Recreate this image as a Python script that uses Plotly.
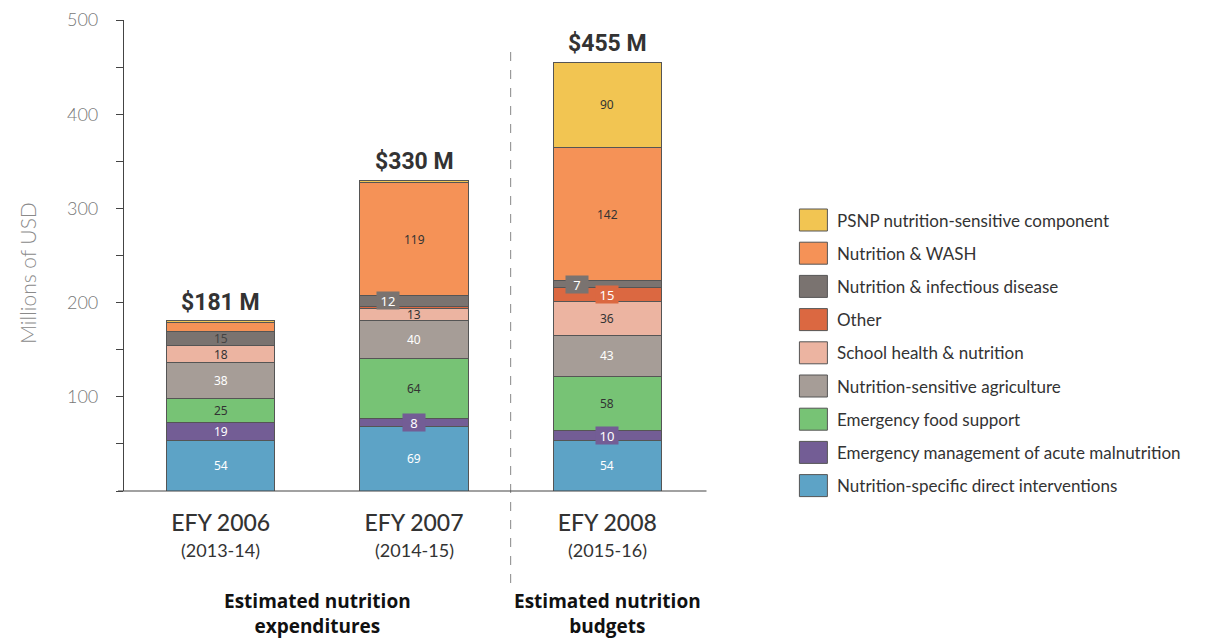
import plotly.graph_objects as go

# Fiscal years and their Gregorian equivalents
years = ["EFY 2006", "EFY 2007", "EFY 2008"]
periods = ["(2013-14)", "(2014-15)", "(2015-16)"]
totals = [181, 330, 455]

# Spending by category, stacked bottom to top (millions of USD)
direct = [54, 69, 54]
acute = [19, 8, 10]
food = [25, 64, 58]
agriculture = [38, 40, 43]
school = [18, 13, 36]
other = [0, 2, 15]
infectious = [15, 12, 7]
wash = [10, 119, 142]
psnp = [2, 3, 90]

series = [
    ("Nutrition-specific direct interventions", direct, "#5DA3C6"),
    ("Emergency management of acute malnutrition", acute, "#735D95"),
    ("Emergency food support", food, "#77C375"),
    ("Nutrition-sensitive agriculture", agriculture, "#A69D97"),
    ("School health & nutrition", school, "#ECB4A1"),
    ("Other", other, "#DB6841"),
    ("Nutrition & infectious disease", infectious, "#7A7370"),
    ("Nutrition & WASH", wash, "#F59257"),
    ("PSNP nutrition-sensitive component", psnp, "#F2C552"),
]

# How each value label is drawn: (style, text colour, horizontal shift in px)
# style: "in" = plain text inside the segment, "box" = tagged box, None = no label
label_style = {
    "Nutrition-specific direct interventions": [("in", "white", 0)] * 3,
    "Emergency management of acute malnutrition": [("in", "white", 0), ("box", "white", 0), ("box", "white", 0)],
    "Emergency food support": [("in", "#333", 0)] * 3,
    "Nutrition-sensitive agriculture": [("in", "white", 0)] * 3,
    "School health & nutrition": [("in", "#333", 0)] * 3,
    "Other": [None, None, ("box", "white", 0)],
    "Nutrition & infectious disease": [("in", "#444", 0), ("box", "white", -26), ("box", "white", -30)],
    "Nutrition & WASH": [None, ("in", "#333", 0), ("in", "#333", 0)],
    "PSNP nutrition-sensitive component": [None, None, ("in", "#333", 0)],
}

W, H = 1225, 638
ML, MT = 124, 20
PW, PH = 580.5, 471
MR, MB = W - ML - PW, H - MT - PH


def px_x(px):
    return (px - ML) / PW


def px_y(py):
    return (MT + PH - py) / PH


xs = list(range(len(years)))
fig = go.Figure()

for name, vals, color in series:
    fig.add_trace(go.Bar(
        x=xs, y=vals, name=name, width=0.56,
        marker=dict(color=color, line=dict(color="#555555", width=1)),
        showlegend=False,
    ))

annotations = []
base = [0, 0, 0]
for name, vals, color in series:
    for i, v in enumerate(vals):
        st = label_style[name][i]
        if st is not None and v > 0:
            kind, fcol, dx = st
            a = dict(x=xs[i], y=base[i] + v / 2, xref="x", yref="y", text=str(v),
                     showarrow=False, xshift=dx, xanchor="center", yanchor="middle",
                     font=dict(family="Noto Sans", size=12, color=fcol))
            if kind == "box":
                a.update(bgcolor=color, borderpad=0, width=22, height=17,
                         font=dict(family="Noto Sans", size=13, color=fcol))
            annotations.append(a)
        base[i] += v

# Totals above each bar
for i, t in enumerate(totals):
    annotations.append(dict(x=xs[i], y=t, xref="x", yref="y", yanchor="bottom", yshift=3,
                            xanchor="center", text=f"<b>${t} M</b>", showarrow=False,
                            font=dict(family="Roboto", size=23, color="#333")))

# Gregorian year ranges under the fiscal-year labels
for i, p in enumerate(periods):
    annotations.append(dict(x=xs[i], y=px_y(550), xref="x", yref="paper", text=p, showarrow=False,
                            xanchor="center", yanchor="middle",
                            font=dict(family="Lato", size=18, color="#333")))

# Group captions
cap_font = dict(family="Open Sans", size=19, color="#111")
annotations.append(dict(x=0.5, y=px_y(613), xref="x", yref="paper", xanchor="center", yanchor="middle",
                        text="<b>Estimated nutrition<br>expenditures</b>", showarrow=False,
                        font=cap_font))
annotations.append(dict(x=2, y=px_y(613), xref="x", yref="paper", xanchor="center", yanchor="middle",
                        text="<b>Estimated nutrition<br>budgets</b>", showarrow=False,
                        font=cap_font))

# Y axis title
annotations.append(dict(x=px_x(27), y=px_y(273), xref="paper", yref="paper", text="Millions of USD",
                        textangle=-90, showarrow=False, xanchor="center", yanchor="middle",
                        font=dict(family="Lato", size=21, color="#8a8a8a", weight=300)))

# Legend, top entry first
shapes = []
row0, step = 220, 33.2
for k, (name, vals, color) in enumerate(reversed(series)):
    cy = row0 + k * step
    shapes.append(dict(type="rect", xref="paper", yref="paper",
                       x0=px_x(800), x1=px_x(828), y0=px_y(cy + 11), y1=px_y(cy - 11),
                       fillcolor=color, line=dict(color="#555555", width=1)))
    annotations.append(dict(x=px_x(836), y=px_y(cy), xref="paper", yref="paper",
                            xanchor="left", yanchor="middle",
                            text=name, showarrow=False,
                            font=dict(family="Lato", size=17, color="#333")))

# Divider between expenditures and budgets
shapes.append(dict(type="line", xref="x", yref="paper", x0=1.5, x1=1.5,
                   y0=px_y(583), y1=px_y(50), line=dict(color="#888", width=1, dash="dash")))
# Baseline
shapes.append(dict(type="line", xref="paper", yref="paper", x0=px_x(118), x1=px_x(707),
                   y0=0, y1=0, line=dict(color="#444", width=1.2)))

fig.update_layout(
    width=W, height=H, barmode="stack",
    margin=dict(l=ML, r=MR, t=MT, b=MB, autoexpand=False),
    plot_bgcolor="white", paper_bgcolor="white",
    annotations=annotations, shapes=shapes,
    xaxis=dict(range=[-0.5, 2.5], tickvals=xs, ticktext=years, showgrid=False, zeroline=False,
               showline=False, ticks="", ticklabelstandoff=16, automargin=False,
               tickfont=dict(family="Lato", size=23, color="#333", weight=500)),
    yaxis=dict(range=[0, 500], tickvals=[100, 200, 300, 400, 500], showgrid=False, zeroline=False,
               showline=True, linecolor="#444", linewidth=1.2, ticks="outside", ticklen=7,
               tickcolor="#444", ticklabelstandoff=14, automargin=False,
               minor=dict(dtick=50, ticks="outside", ticklen=7, tickcolor="#444"),
               tickfont=dict(family="Lato", size=18, color="#777", weight=300)),
)

fig.write_html("out.html")
